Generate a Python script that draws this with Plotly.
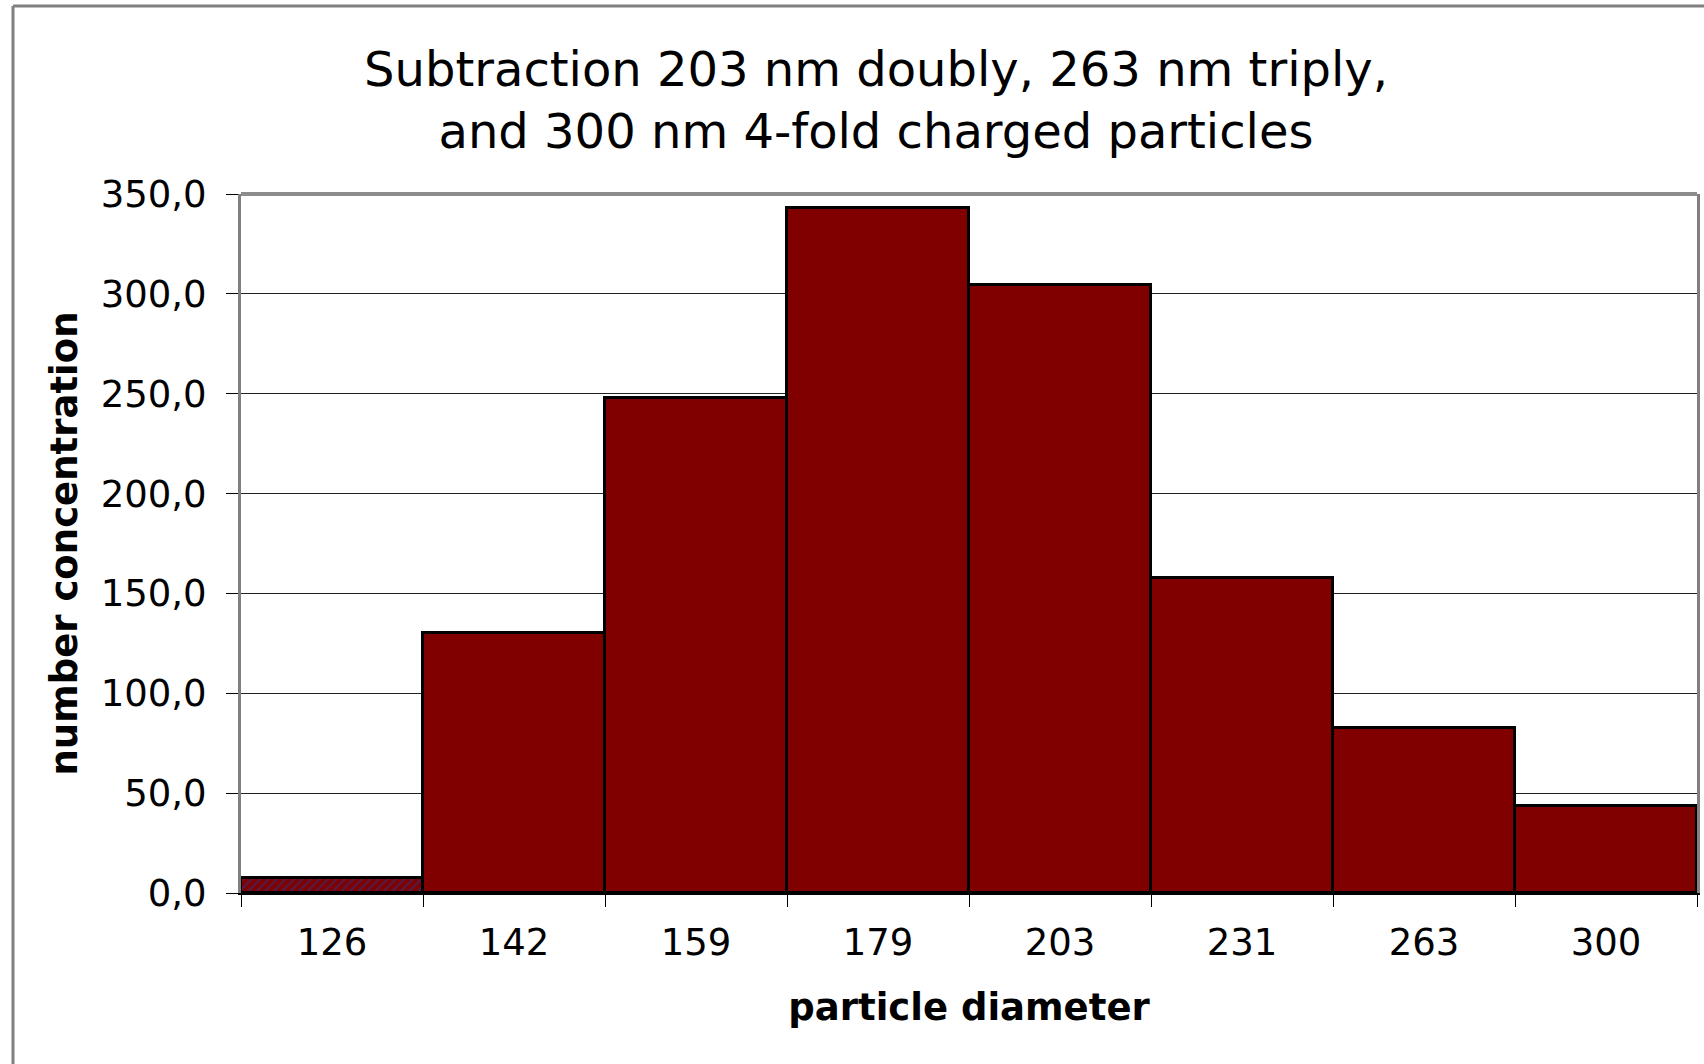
import plotly.graph_objects as go

# particle diameter classes (nm) and the corrected number concentration
diameters = ['126', '142', '159', '179', '203', '231', '263', '300']
concentration = [7.6, 130.1, 247.7, 343.0, 304.3, 157.9, 82.7, 43.5]
bar_patterns = ['/', '', '', '', '', '', '', '']

W, H = 1704, 1064
L, R, T, B = 241, 7, 194, 171
plot_w = W - L - R
plot_h = H - T - B

font_name = 'DejaVu Sans, Verdana, sans-serif'

bars = go.Bar(x=diameters,
              y=concentration,
              marker=dict(color='#800000',
                          line=dict(color='black', width=3),
                          pattern=dict(shape=bar_patterns,
                                       fgcolor='#1f3a93',
                                       bgcolor='#800000',
                                       size=6,
                                       solidity=0.35)),
              showlegend=False)

fig = go.Figure(data=[bars])

fig.update_layout(
    width=W, height=H,
    margin=dict(l=L, r=R, t=T, b=B),
    paper_bgcolor='white',
    plot_bgcolor='white',
    separators=', ',
    bargap=0,
    font=dict(family=font_name, color='black'),
    title=dict(text='Subtraction 203 nm doubly, 263 nm triply,<br>and 300 nm 4-fold charged particles',
               x=876 / W, xanchor='center',
               y=1 - 86 / H, yanchor='middle',
               font=dict(size=48, family=font_name)),
    xaxis=dict(
        title=dict(text='<b>particle diameter</b>', font=dict(size=37), standoff=31),
        tickfont=dict(size=37),
        tickson='boundaries',
        ticks='outside', ticklen=12, tickcolor='black', tickwidth=1,
        ticklabelstandoff=16,
        showline=True, linecolor='black', linewidth=2,
        showgrid=False,
        range=[-0.5, 7.5],
        automargin=False,
    ),
    yaxis=dict(
        title=dict(text='<b>number concentration</b>', font=dict(size=37), standoff=12),
        tickfont=dict(size=37),
        range=[0, 350], dtick=50, tickformat='.1f',
        ticks='outside', ticklen=12, tickcolor='black', tickwidth=1,
        ticklabelstandoff=12,
        showline=True, linecolor='#808080', linewidth=3, mirror=True,
        showgrid=True, gridcolor='#222222', gridwidth=1,
        zeroline=False,
        automargin=False,
    ),
    shapes=[
        # grey top border of the plot area
        dict(type='line', xref='paper', yref='paper', x0=0, x1=1, y0=1, y1=1,
             line=dict(color='#8c8c8c', width=4)),
        # outer chart frame (top and left edges visible)
        dict(type='line', xref='paper', yref='paper',
             x0=-(L - 13) / plot_w, x1=(plot_w + R + 5) / plot_w,
             y0=1 + (T - 6) / plot_h, y1=1 + (T - 6) / plot_h,
             line=dict(color='#808080', width=3)),
        dict(type='line', xref='paper', yref='paper',
             x0=-(L - 13) / plot_w, x1=-(L - 13) / plot_w,
             y0=1 + (T - 6) / plot_h, y1=-(B + 5) / plot_h,
             line=dict(color='#808080', width=3)),
    ],
)

# drop the default page margin so the figure sits at the window origin
fig.write_html("out.html", config={'displayModeBar': False},
               post_script="document.body.style.margin='0';")
